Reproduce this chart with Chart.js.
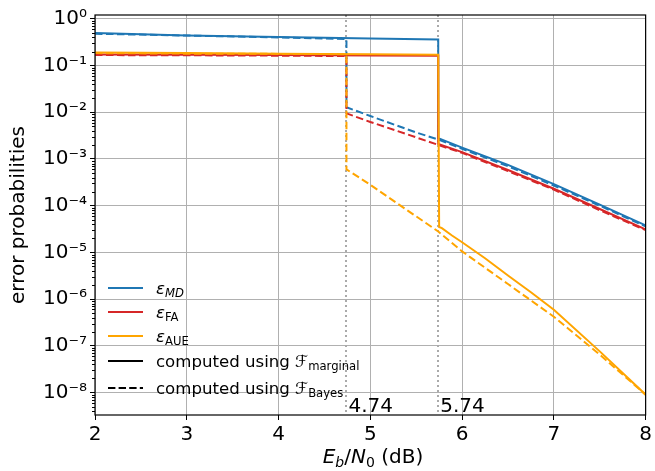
<!DOCTYPE html>
<html>
<head>
<meta charset="utf-8">
<script src="https://cdn.jsdelivr.net/npm/chart.js@4/dist/chart.umd.min.js"></script>
<style>
  body { margin: 0; background: #fff; }
  #wrap { position: relative; width: 655px; height: 471px; font-family: "DejaVu Sans", sans-serif; color: #000; }
  #legend { position: absolute; left: 108px; top: 0; font-size: 16.6px; }
  .row { position: absolute; left: 0; height: 24px; display: flex; align-items: center; white-space: nowrap; }
  .row svg { margin-right: 13px; }
  sub { font-size: 70%; vertical-align: -0.3em; line-height: 0; }
  .it { font-style: italic; }
  #xtitle { position: absolute; left: 95px; width: 556px; top: 444px; text-align: center; font-size: 20px; line-height: 24px; white-space: nowrap; }
</style>
</head>
<body>
<div id="wrap">
  <canvas id="errChart" width="655" height="471"></canvas>
  <div id="legend"></div>
  <div id="xtitle"><span class="it">E</span><sub class="it">b</sub>/<span class="it">N</span><sub>0</sub> (dB)</div>
</div>
<script>
// x values (Eb/N0 in dB) and error probabilities
const xMDSolid   = [2, 3, 4, 5, 5.74, 5.74, 6, 6.5, 7, 7.5, 8];
const mdSolid    = [0.5, 0.44, 0.41, 0.38, 0.36, 2.8e-3, 1.75e-3, 7.5e-4, 2.9e-4, 1.05e-4, 3.8e-5];
const xMDDashed  = [2, 3, 4, 4.74, 4.74, 5, 5.5, 5.74, 6, 6.5, 7, 7.5, 8];
const mdDashed   = [0.48, 0.44, 0.4, 0.37, 0.0128, 8.3e-3, 3.7e-3, 2.6e-3, 1.65e-3, 7e-4, 2.7e-4, 1e-4, 3.6e-5];

const xFASolid   = [2, 3, 4, 5, 5.74, 5.74, 6, 6.5, 7, 7.5, 8];
const faSolid    = [0.172, 0.17, 0.168, 0.165, 0.162, 2.1e-3, 1.4e-3, 5.8e-4, 2.3e-4, 8.5e-5, 3.1e-5];
const xFADashed  = [2, 3, 4, 4.74, 4.74, 5, 5.5, 5.74, 6, 6.5, 7, 7.5, 8];
const faDashed   = [0.168, 0.166, 0.163, 0.16, 9.5e-3, 6.2e-3, 2.9e-3, 2.0e-3, 1.35e-3, 5.5e-4, 2.2e-4, 8e-5, 3e-5];

const xAUESolid  = [2, 3, 4, 5, 5.74, 5.75, 5.78, 5.89, 6, 6.25, 6.5, 6.75, 7, 7.5, 8];
const aueSolid   = [0.19, 0.185, 0.18, 0.175, 0.17, 3.5e-5, 3.3e-5, 2.3e-5, 1.65e-5, 7.5e-6, 3.2e-6, 1.4e-6, 5.9e-7, 7.6e-8, 9e-9];
const xAUEDashed = [2, 3, 4, 4.74, 4.74, 5, 5.5, 5.74, 6, 6.5, 7, 7.5, 8];
const aueDashed  = [0.185, 0.18, 0.178, 0.175, 6e-4, 2.8e-4, 5.9e-5, 2.8e-5, 1.05e-5, 2.1e-6, 4.2e-7, 6.5e-8, 9e-9];

const thresholds = [4.74, 5.74];
const thresholdLabels = ['4.74', '5.74'];

const xTicks = [2, 3, 4, 5, 6, 7, 8];
const yTickValues = [1, 1e-1, 1e-2, 1e-3, 1e-4, 1e-5, 1e-6, 1e-7, 1e-8];
const yTickLabels = ['10⁰', '10⁻¹', '10⁻²', '10⁻³', '10⁻⁴', '10⁻⁵', '10⁻⁶', '10⁻⁷', '10⁻⁸'];

const BLUE = '#1f77b4', RED = '#d62728', ORANGE = '#ffa500';
const FONT = '"DejaVu Sans", sans-serif';

function pts(xs, ys) {
    return xs.map((x, i) => ({ x: x, y: ys[i] }));
}

const series = [
    { data: pts(xMDSolid, mdSolid), color: BLUE, dashed: false },
    { data: pts(xMDDashed, mdDashed), color: BLUE, dashed: true },
    { data: pts(xFASolid, faSolid), color: RED, dashed: false },
    { data: pts(xFADashed, faDashed), color: RED, dashed: true },
    { data: pts(xAUESolid, aueSolid), color: ORANGE, dashed: false },
    { data: pts(xAUEDashed, aueDashed), color: ORANGE, dashed: true }
];

const datasets = series.map((s, i) => ({
    data: s.data,
    borderColor: s.color,
    borderWidth: 2,
    borderDash: s.dashed ? [7.5, 3.5] : [],
    pointRadius: 0,
    tension: 0,
    fill: false,
    order: series.length - i
}));

// dotted thresholds, minor log ticks, frame
const extras = {
    id: 'extras',
    beforeDatasetsDraw(chart) {
        const { ctx, chartArea, scales } = chart;
        ctx.save();
        ctx.strokeStyle = '#aaaaaa';
        ctx.lineWidth = 2;
        ctx.setLineDash([2, 3]);
        thresholds.forEach(t => {
            const px = Math.round(scales.x.getPixelForValue(t));
            ctx.beginPath();
            ctx.moveTo(px, chartArea.top);
            ctx.lineTo(px, chartArea.bottom);
            ctx.stroke();
        });
        ctx.restore();
    },
    afterDatasetsDraw(chart) {
        const { ctx, chartArea, scales } = chart;
        ctx.save();
        // minor ticks on the log axis
        ctx.strokeStyle = '#000';
        ctx.lineWidth = 1;
        const yMin = scales.y.min, yMax = scales.y.max;
        for (let e = -10; e <= 0; e++) {
            for (let k = 2; k <= 9; k++) {
                const v = k * Math.pow(10, e);
                if (v < yMin || v > yMax) continue;
                const py = Math.round(scales.y.getPixelForValue(v)) + 0.5;
                ctx.beginPath();
                ctx.moveTo(chartArea.left - 3, py);
                ctx.lineTo(chartArea.left, py);
                ctx.stroke();
            }
        }
        // threshold labels
        ctx.fillStyle = '#000';
        ctx.font = '20px ' + FONT;
        ctx.textBaseline = 'alphabetic';
        ctx.textAlign = 'left';
        thresholds.forEach((t, i) => {
            ctx.fillText(thresholdLabels[i], scales.x.getPixelForValue(t) + 2, chartArea.bottom - 3);
        });
        // frame
        ctx.lineWidth = 1.2;
        ctx.strokeRect(chartArea.left, chartArea.top, chartArea.right - chartArea.left, chartArea.bottom - chartArea.top);
        ctx.restore();
    }
};

const ctx = document.getElementById('errChart').getContext('2d');
new Chart(ctx, {
    type: 'line',
    data: { datasets: datasets },
    options: {
        responsive: false,
        animation: false,
        events: [],
        layout: { padding: { top: 8, right: 4, left: 0, bottom: 0 } },
        plugins: { legend: { display: false }, tooltip: { enabled: false } },
        scales: {
            x: {
                type: 'linear',
                min: 2,
                max: 8,
                afterBuildTicks: s => { s.ticks = xTicks.map(v => ({ value: v })); },
                afterFit: s => { s.height = 56; },
                ticks: { color: '#000', font: { size: 20, family: FONT }, padding: 3, maxRotation: 0 },
                grid: { color: '#b0b0b0', lineWidth: 1, tickColor: '#000', tickLength: 5 },
                border: { display: false }
            },
            y: {
                type: 'logarithmic',
                min: 3.3e-9,
                max: 1.21,
                afterBuildTicks: s => { s.ticks = yTickValues.map(v => ({ value: v, major: true })); },
                afterFit: s => { s.width = 95; },
                ticks: {
                    color: '#000',
                    font: { size: 20, family: FONT },
                    padding: 3,
                    autoSkip: false,
                    callback: function (v) {
                        const i = yTickValues.findIndex(t => Math.abs(Math.log10(t) - Math.log10(v)) < 1e-6);
                        return i >= 0 ? yTickLabels[i] : '';
                    }
                },
                grid: { color: '#b0b0b0', lineWidth: 1, tickColor: '#000', tickLength: 5 },
                border: { display: false },
                title: {
                    display: true,
                    text: 'error probabilities',
                    color: '#000',
                    font: { size: 20, family: FONT },
                    padding: { top: 7, bottom: 0 }
                }
            }
        }
    },
    plugins: [extras]
});

// legend (html so the subscripts render)
const legendRows = [
    { y: 288, color: BLUE, dash: false, html: '<span class="it">ε</span><sub class="it">MD</sub>' },
    { y: 312, color: RED, dash: false, html: '<span class="it">ε</span><sub>FA</sub>' },
    { y: 336, color: ORANGE, dash: false, html: '<span class="it">ε</span><sub>AUE</sub>' },
    { y: 361, color: '#000', dash: false, html: 'computed using ℱ<sub>marginal</sub>' },
    { y: 388, color: '#000', dash: true, html: 'computed using ℱ<sub>Bayes</sub>' }
];
const legend = document.getElementById('legend');
legendRows.forEach(r => {
    const row = document.createElement('div');
    row.className = 'row';
    row.style.top = (r.y - 12) + 'px';
    row.innerHTML = '<svg width="35" height="4"><line x1="0" y1="2" x2="35" y2="2" stroke="' + r.color +
        '" stroke-width="2"' + (r.dash ? ' stroke-dasharray="7.4,3.2"' : '') + '/></svg><span>' + r.html + '</span>';
    legend.appendChild(row);
});
</script>
</body>
</html>
